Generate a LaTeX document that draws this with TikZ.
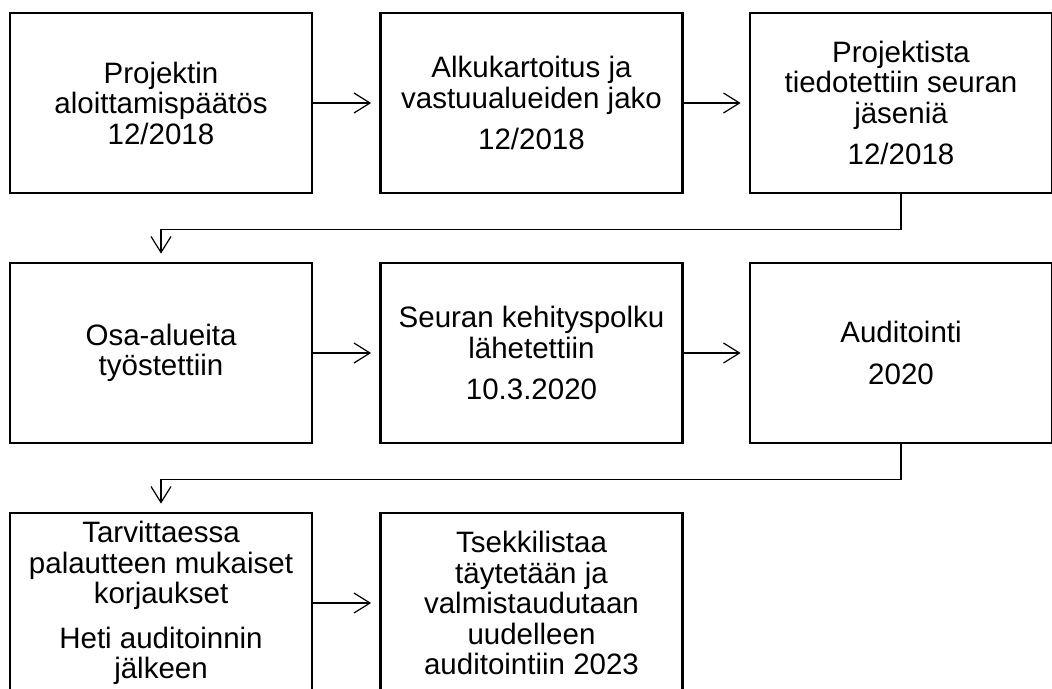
\documentclass[tikz,border=0pt]{standalone}
\usepackage{fontspec}
\setmainfont{Liberation Sans}
\usetikzlibrary{arrows.meta}

\tikzset{
  stage/.style={draw, line width=2.8pt, rectangle, minimum width=302pt, minimum height=180pt,
    inner sep=0pt, align=center, font=\fontsize{29.5}{30.5}\selectfont},
  flow/.style={line width=1.2pt, -{Straight Barb[length=16pt,width=20pt]}, shorten >=8pt},
}

\begin{document}
\begin{tikzpicture}[x=1pt, y=-1pt]
  \useasboundingbox (0,0) rectangle (1052,688);
  \fill[white] (0,0) rectangle (1052,688);
  \clip (0,0) rectangle (1052,688);

  % first row
  \node[stage] (s1) at (161,103) {Projektin\\aloittamispäätös\\12/2018};
  \node[stage] (s2) at (531.5,103) {Alkukartoitus ja\\vastuualueiden jako\\[11pt]12/2018};
  \node[stage] (s3) at (901,103) {Projektista\\tiedotettiin seuran\\jäseniä\\[11pt]12/2018};

  % second row
  \node[stage] (s4) at (161,353) {Osa-alueita\\työstettiin};
  \node[stage] (s5) at (531.5,353) {Seuran kehityspolku\\lähetettiin\\[11pt]10.3.2020};
  \node[stage] (s6) at (901,353) {Auditointi\\[11pt]2020};

  % third row
  \node[stage] (s7) at (161,603) {Tarvittaessa\\palautteen mukaiset\\korjaukset\\[14pt]Heti auditoinnin\\jälkeen};
  \node[stage] (s8) at (531.5,603) {Tsekkilistaa\\täytetään ja\\valmistaudutaan\\uudelleen\\auditointiin 2023};

  % connectors
  \draw[flow] (s1.east) -- (s2.west);
  \draw[flow] (s2.east) -- (s3.west);
  \draw[flow] (s3.south) -- ++(0,35) -| (s4.north);
  \draw[flow] (s4.east) -- (s5.west);
  \draw[flow] (s5.east) -- (s6.west);
  \draw[flow] (s6.south) -- ++(0,35) -| (s7.north);
  \draw[flow] (s7.east) -- (s8.west);
\end{tikzpicture}
\end{document}
